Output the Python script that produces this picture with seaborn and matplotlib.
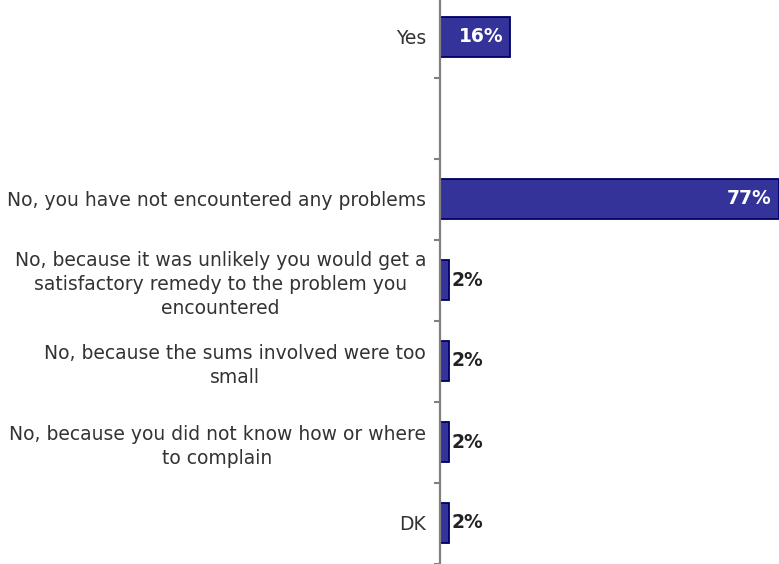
import matplotlib
matplotlib.use("Agg")
import matplotlib.pyplot as plt
import numpy as np
import pandas as pd
import seaborn as sns

# Survey answers and shares (%)
categories = [
    "Yes",
    " ",
    "No, you have not encountered any problems",
    "No, because it was unlikely you would get a\nsatisfactory remedy to the problem you\nencountered",
    "No, because the sums involved were too\nsmall",
    "No, because you did not know how or where\nto complain",
    "DK",
]
answered = [
    "Yes",
    "No, you have not encountered any problems",
    "No, because it was unlikely you would get a\nsatisfactory remedy to the problem you\nencountered",
    "No, because the sums involved were too\nsmall",
    "No, because you did not know how or where\nto complain",
    "DK",
]
shares = [16, 77, 2, 2, 2, 2]

df = pd.DataFrame({"answer": answered, "share": shares})

sns.set_theme(style="white")
plt.rcParams["font.family"] = ["DejaVu Sans"]

fig = plt.figure(figsize=(7.79, 5.64), dpi=100)
ax = fig.add_axes([440 / 779, 0.5 / 564, 1 - 440 / 779 + 0.001, 567 / 564])

sns.barplot(data=df, y="answer", x="share", order=categories, orient="h",
            color="#333399", saturation=1, width=0.49,
            edgecolor="#000066", linewidth=1.3, ax=ax)

ax.set_xlim(0, 77.2)
ax.set_ylim(len(categories) - 0.5, -0.5)
ax.set_xlabel("")
ax.set_ylabel("")
ax.set_xticks([])

# Value labels: inside for wide bars, outside for thin ones
for i, cat in enumerate(categories):
    if cat not in answered:
        continue
    v = shares[answered.index(cat)]
    if v >= 10:
        ax.annotate(f"{v}%", xy=(v, i), xytext=(-5, 0), textcoords="offset points",
                    ha="right", va="center", color="white", fontweight="bold",
                    fontsize=13.5)
    else:
        ax.annotate(f"{v}%", xy=(v, i), xytext=(2, 0), textcoords="offset points",
                    ha="left", va="center", color="#222222", fontweight="bold",
                    fontsize=13.5)

for s in ["top", "right", "bottom"]:
    ax.spines[s].set_visible(False)
ax.spines["left"].set_color("#808080")
ax.spines["left"].set_linewidth(1.6)

ax.tick_params(axis="y", which="major", length=0, pad=10, labelsize=13.5,
               labelcolor="#333333")
for lbl in ax.get_yticklabels():
    lbl.set_multialignment("center")
    lbl.set_linespacing(1.32)
ax.set_yticks(np.arange(-0.5, len(categories) + 0.5, 1), minor=True)
ax.tick_params(axis="y", which="minor", length=4, width=1.5, color="#808080",
               left=True, direction="out")

fig.savefig("out.png", dpi=100)
